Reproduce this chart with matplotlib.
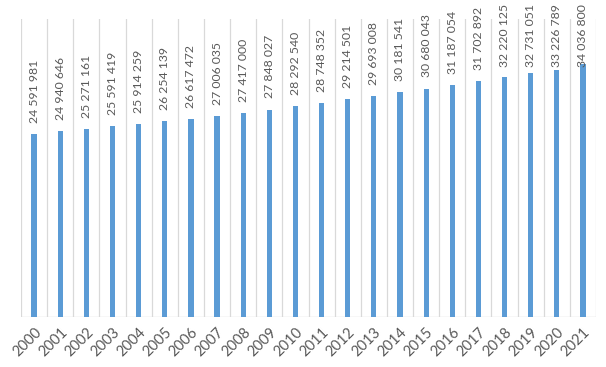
import numpy as np
import matplotlib
matplotlib.use('Agg')
import matplotlib.pyplot as plt

plt.rcParams['font.family'] = ['Lato', 'DejaVu Sans']

years = [str(y) for y in range(2000, 2022)]
values = [24591981, 24940646, 25271161, 25591419, 25914259, 26254139, 26617472,
          27006035, 27417000, 27848027, 28292540, 28748352, 29214501, 29693008,
          30181541, 30680043, 31187054, 31702892, 32220125, 32731051, 33226789,
          34036800]

bar_color = '#5B9BD5'
grid_color = '#D9D9D9'
text_color = '#595959'

fig = plt.figure(figsize=(6.06, 3.67), dpi=100)
ax = fig.add_axes([0.0347, 0.136, 0.9488, 0.812])

x = np.arange(len(years))
ax.bar(x, values, width=0.2, color=bar_color, zorder=3)

# vertical gridlines between categories
for b in np.arange(-0.5, len(years), 1.0):
    ax.axvline(b, color=grid_color, lw=0.9, zorder=1)
ax.axhline(0, color=grid_color, lw=1.0, zorder=2)

ax.set_xlim(-0.5, len(years) - 0.5)
ax.set_ylim(0, 40_000_000)

# value labels, pushed down near the top of the chart
cap = 33_600_000
for xi, v in zip(x, values):
    label = f'{v:,}'.replace(',', ' ')
    ypos = min(v + 1_500_000, cap)
    ax.text(xi, ypos, label, rotation=90, ha='center', va='bottom',
            fontsize=8.8, color=text_color, clip_on=False, zorder=4)

ax.set_xticks(x)
ax.set_xticklabels(years, rotation=45, ha='right', rotation_mode='anchor',
                   fontsize=10.5, color=text_color)
ax.tick_params(axis='x', length=0, pad=6)
ax.set_yticks([])
for s in ax.spines.values():
    s.set_visible(False)

fig.savefig('out.png', dpi=100)
